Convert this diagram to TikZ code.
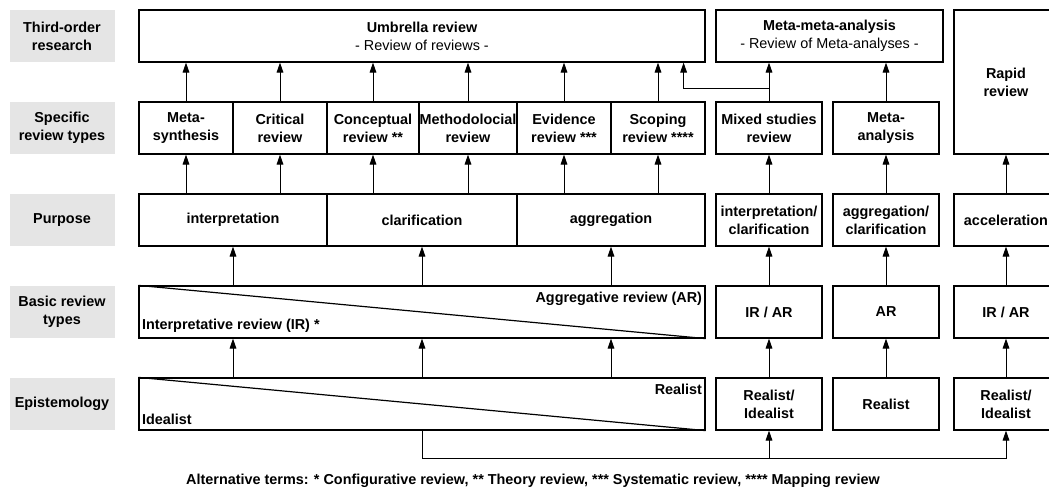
\documentclass[tikz,border=0pt]{standalone}
\usepackage{fontspec}
\setmainfont{Liberation Sans}
\usetikzlibrary{arrows.meta}

\begin{document}
\begin{tikzpicture}[x=0.75pt, y=-0.75pt,
	font=\fontsize{10.8}{13.7}\selectfont\bfseries,
	cell/.style 2 args={draw, line width=0.9pt, inner sep=0pt, align=center, minimum width=#1*0.75pt, minimum height=#2*0.75pt},
	head/.style={fill=gray!20, align=center, inner sep=0pt, minimum width=105*0.75pt, minimum height=52*0.75pt},
	arr/.style={line width=0.75pt, -{Triangle[length=7.5pt,width=5pt]}},
	corner/.style={inner xsep=2.5pt, inner ysep=4.5pt}]
	\useasboundingbox (0,0) rectangle (1049,491);
	\clip (0,0) rectangle (1049,491);
	
	%row headers
	\node (h1) at (62,36) [head]{Third-order\\research};
	\node (h2) at (62,128) [head]{Specific\\review types};
	\node (h3) at (62,220) [head]{Purpose};
	\node (h4) at (62,312) [head]{Basic review\\types};
	\node (h5) at (62,404) [head]{Epistemology};
	
	%third-order research
	\node (umb) at (422,36) [cell={566}{52}]{Umbrella review\\\mdseries - Review of reviews -};
	\node (mma) at (829.5,36) [cell={227}{52}]{Meta-meta-analysis\\\mdseries - Review of Meta-analyses -};
	\node (rap) at (1006,82) [cell={104}{144}]{Rapid\\review};
	
	%specific review types
	\foreach \x/\w/\n/\t in {186/94/s1/{Meta-\\synthesis}, 280/94/s2/{Critical\\review},
		373/92/s3/{Conceptual\\review **}, 468/98/s4/{Methodolocial\\review},
		564/94/s5/{Evidence\\review ***}, 658/94/s6/{Scoping\\review ****}}
		\node (\n) at (\x,128) [cell={\w}{52}]{\t};
	\node (mix) at (769,128) [cell={106}{52}]{Mixed studies\\review};
	\node (man) at (886,128) [cell={106}{52}]{Meta-\\analysis};
	
	%purpose
	\node (p1) at (233,220) [cell={188}{52}]{interpretation};
	\node (p2) at (422,220) [cell={190}{52}]{clarification};
	\node (p3) at (611,220) [cell={188}{52}]{aggregation};
	\node (pA) at (769,220) [cell={106}{52}]{interpretation/\\clarification};
	\node (pB) at (886,220) [cell={106}{52}]{aggregation/\\clarification};
	\node (pC) at (1006,220) [cell={104}{52}]{acceleration};
	
	%basic review types
	\node (bas) at (422,312) [cell={566}{52}]{};
	\draw[line width=0.9pt] (bas.north west) -- (bas.south east);
	\node (bas-ar) at (bas.north east) [anchor=north east, corner]{Aggregative review (AR)};
	\node (bas-ir) at (bas.south west) [anchor=south west, corner]{Interpretative review (IR) *};
	\node (bA) at (769,312) [cell={106}{52}]{IR / AR};
	\node (bB) at (886,312) [cell={106}{52}]{AR};
	\node (bC) at (1006,312) [cell={104}{52}]{IR / AR};
	
	%epistemology
	\node (epi) at (422,404) [cell={566}{52}]{};
	\draw[line width=0.9pt] (epi.north west) -- (epi.south east);
	\node (epi-re) at (epi.north east) [anchor=north east, corner]{Realist};
	\node (epi-id) at (epi.south west) [anchor=south west, corner]{Idealist};
	\node (eA) at (769,404) [cell={106}{52}]{Realist/\\Idealist};
	\node (eB) at (886,404) [cell={106}{52}]{Realist};
	\node (eC) at (1006,404) [cell={104}{52}]{Realist/\\Idealist};
	
	%arrows
	\foreach \n in {s1,s2,s3,s4,s5,s6}{
		\draw[arr] (\n.north) -- (\n.north |- umb.south);
		\draw[arr] (\n.south |- p1.north) -- (\n.south);
	}
	\foreach \n in {p1,p2,p3}{
		\draw[arr] (\n.south |- bas.north) -- (\n.south);
		\draw[arr] (\n.south |- epi.north) -- (\n.south |- bas.south);
	}
	\foreach \a/\b in {eA/bA, bA/pA, pA/mix, eB/bB, bB/pB, pB/man, man/mma, eC/bC, bC/pC, pC/rap}
		\draw[arr] (\a.north) -- (\b.south -| \a.north);
	
	\coordinate (split) at (769,89);
	\draw[arr] (mix.north) -- (mix.north |- mma.south);
	\draw[arr] (split) -| ([xshift=-16.5pt]umb.south east);
	
	\coordinate (bus) at (422,458);
	\draw[arr] (epi.south) -- (bus) -| (eC.south);
	\draw[arr] (bus -| eA.south) -- (eA.south);
	
	\node (note) at (533,481){Alternative terms: * Configurative review, ** Theory review, *** Systematic review, **** Mapping review};
\end{tikzpicture}
\end{document}
